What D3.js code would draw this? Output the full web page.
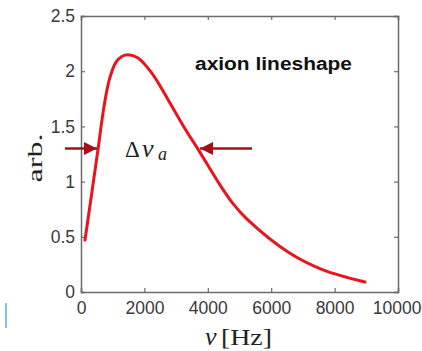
<!DOCTYPE html>
<html><head><meta charset="utf-8">
<script src="https://cdn.jsdelivr.net/npm/d3@7"></script>
<style>body{margin:0;background:#fff;} svg{display:block;}</style>
</head><body>
<script>
// Data
const freqHz  = [126, 536, 726, 900, 1100, 1300, 1483, 1800, 2240, 2871, 3300, 3700, 4385, 4795, 5237, 6593, 7634, 8959];
const lineAmp = [0.47, 1.29, 1.68, 1.93, 2.08, 2.135, 2.15, 2.12, 1.98, 1.68, 1.47, 1.29, 0.97, 0.80, 0.66, 0.35, 0.20, 0.09];
const xTicks = [0, 2000, 4000, 6000, 8000, 10000];
const yTicks = [0, 0.5, 1, 1.5, 2, 2.5];
const arrowFrom = [[-505, 1.30], [5394, 1.30]];
const arrowTo   = [[505, 1.30], [3754, 1.30]];

const W = 422, H = 351;
const m = {left: 81, right: 398, top: 16, bottom: 292};
const svg = d3.select("body").append("svg").attr("width", W).attr("height", H);
const x = d3.scaleLinear().domain([0, 10000]).range([m.left, m.right]);
const y = d3.scaleLinear().domain([0, 2.5]).range([m.bottom, m.top]);

const axisCol = "#6b6b6b", txtCol = "#3a3a3a";
const fmt = d => String(d);

// axes
const gx = svg.append("g").attr("transform", `translate(0,${m.bottom})`)
  .call(d3.axisBottom(x).tickValues(xTicks).tickSize(-4).tickPadding(10).tickFormat(fmt));
const gxt = svg.append("g").attr("transform", `translate(0,${m.top})`)
  .call(d3.axisTop(x).tickValues(xTicks).tickSize(-4).tickFormat(""));
const gy = svg.append("g").attr("transform", `translate(${m.left},0)`)
  .call(d3.axisLeft(y).tickValues(yTicks).tickSize(-4).tickPadding(6).tickFormat(fmt));
const gyr = svg.append("g").attr("transform", `translate(${m.right},0)`)
  .call(d3.axisRight(y).tickValues(yTicks).tickSize(-4).tickFormat(""));
[gx, gxt, gy, gyr].forEach(g => {
  g.select(".domain").attr("stroke", axisCol).attr("stroke-width", 1.5);
  g.selectAll(".tick line").attr("stroke", axisCol).attr("stroke-width", 1.2);
  g.selectAll(".tick text").attr("fill", txtCol)
    .style("font-family", "'Liberation Sans', Arial, sans-serif").style("font-size", "17.5px");
});
gx.selectAll(".tick text").attr("dy", "0.71em");
gx.selectAll(".tick text").filter(d => d === 10000).attr("text-anchor", "end").attr("x", 23);

// curve
const pts = freqHz.map((f, i) => [f, lineAmp[i]]);
svg.append("path").datum(pts)
  .attr("fill", "none").attr("stroke", "#e8141e").attr("stroke-width", 3)
  .attr("stroke-linecap", "round")
  .attr("d", d3.line().x(d => x(d[0])).y(d => y(d[1])).curve(d3.curveCatmullRom.alpha(0.5)));

// arrows
const arrCol = "#a80f1c";
svg.append("defs").append("marker").attr("id", "ah")
  .attr("viewBox", "0 0 10 10").attr("refX", 10).attr("refY", 5)
  .attr("markerWidth", 5).attr("markerHeight", 5.5).attr("markerUnits", "strokeWidth")
  .attr("orient", "auto")
  .append("path").attr("d", "M0,0 L10,5 L0,10 Z").attr("fill", arrCol);
arrowFrom.forEach((a, i) => {
  const b = arrowTo[i];
  svg.append("line")
    .attr("x1", x(a[0])).attr("y1", y(a[1])).attr("x2", x(b[0])).attr("y2", y(b[1]))
    .attr("stroke", arrCol).attr("stroke-width", 2.6).attr("marker-end", "url(#ah)");
});

// texts
svg.append("text").attr("x", 195).attr("y", 70)
  .attr("textLength", 157).attr("lengthAdjust", "spacingAndGlyphs")
  .style("font-family", "'Liberation Sans', Arial, sans-serif").style("font-weight", "bold")
  .style("font-size", "18px").attr("fill", "#111").text("axion lineshape");

const serif = "'Liberation Serif', 'DejaVu Serif', serif";
const dl = svg.append("text").attr("y", 157)
  .style("font-family", serif).style("font-size", "23px").attr("fill", "#222");
dl.append("tspan").attr("x", 125).text("Δ");
dl.append("tspan").attr("x", 142).style("font-style", "italic").style("font-size", "26px").text("ν");
dl.append("tspan").attr("x", 158).attr("dy", 3).style("font-style", "italic").style("font-size", "18px").text("a");

svg.append("text").attr("transform", "translate(42,158) rotate(-90)").attr("text-anchor", "middle")
  .attr("textLength", 49).attr("lengthAdjust", "spacingAndGlyphs")
  .style("font-family", serif).style("font-size", "22px")
  .attr("fill", "#222").text("arb.");

const xl = svg.append("text").attr("y", 345)
  .style("font-family", serif).style("font-size", "23px").attr("fill", "#222");
xl.append("tspan").attr("x", 205).style("font-style", "italic").style("font-size", "26px").text("ν");
xl.append("tspan").attr("x", 221).attr("textLength", 51).attr("lengthAdjust", "spacingAndGlyphs").text("[Hz]");

// small blue mark at left
svg.append("line").attr("x1", 6).attr("x2", 6).attr("y1", 303).attr("y2", 328)
  .attr("stroke", "#5aa9e6").attr("stroke-width", 1.5);
</script>
</body></html>
